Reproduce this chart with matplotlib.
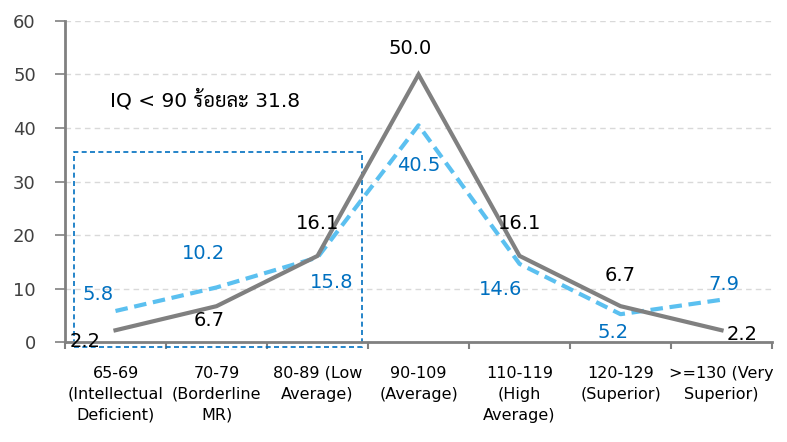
import matplotlib
matplotlib.use('Agg')
import numpy as np
import matplotlib.pyplot as plt
from matplotlib import font_manager
from matplotlib.patches import Rectangle

# Data
categories = ['65-69\n(Intellectual\nDeficient)', '70-79\n(Borderline\nMR)', '80-89 (Low\nAverage)',
              '90-109\n(Average)', '110-119\n(High\nAverage)', '120-129\n(Superior)', '>=130 (Very\nSuperior)']
gray_values = [2.2, 6.7, 16.1, 50.0, 16.1, 6.7, 2.2]
blue_values = [5.8, 10.2, 15.8, 40.5, 14.6, 5.2, 7.9]
note_text = 'IQ < 90 ร้อยละ 31.8'

gray_offsets = [(-30, -11), (-7, -14), (0, 32), (-8, 26), (0, 32), (0, 31), (21, -4)]
blue_offsets = [(-17, 16), (-13, 34), (14, -25), (0, -40), (-19, -26), (-7, -18), (2, 15)]

gray_color = '#808080'
blue_line = '#5BC0F0'
blue_text = '#0070C0'

# pick an installed font that has Thai glyphs
installed = {f.name for f in font_manager.fontManager.ttflist}
thai_font = 'Anuphan'
for name in ['Sarabun', 'Noto Sans Thai Looped', 'Noto Sans Thai', 'Anuphan', 'Bai Jamjuree']:
    if name in installed:
        thai_font = name
        break
plt.rcParams['font.family'] = ['DejaVu Sans', thai_font]

fig = plt.figure(figsize=(7.87, 4.42), dpi=100)
ax = fig.add_axes([0.0826, 0.2262, 0.8984, 0.7263])

x = np.arange(len(categories))
ax.plot(x, gray_values, color=gray_color, lw=3, solid_joinstyle='miter', zorder=3)
ax.plot(x, blue_values, color=blue_line, lw=3, dashes=(3, 1.6), zorder=2)

for xi, v, off in zip(x, gray_values, gray_offsets):
    ax.annotate(f'{v:.1f}', (xi, v), xytext=off, textcoords='offset pixels',
                ha='center', va='center', fontsize=14, color='black', zorder=5)
for xi, v, off in zip(x, blue_values, blue_offsets):
    ax.annotate(f'{v:.1f}', (xi, v), xytext=off, textcoords='offset pixels',
                ha='center', va='center', fontsize=14, color=blue_text, zorder=5)

# dashed box around IQ < 90 group
ax.add_patch(Rectangle((-0.41, -0.9), 2.85, 36.4, fill=False, ec=blue_text,
                       ls=(0, (3, 2)), lw=1.2, clip_on=False, zorder=1))
ax.text(-0.05, 45.2, note_text, ha='left', va='center', fontsize=14.5, color='black')

ax.set_xlim(-0.5, 6.5)
ax.set_ylim(0, 60)
ax.set_yticks(np.arange(0, 61, 10))
ax.yaxis.grid(True, color='#d9d9d9', ls=(0, (4, 3)), lw=1)
ax.set_axisbelow(True)

ax.set_xticks(x)
ax.set_xticklabels(categories, fontsize=11.5, linespacing=1.5)
ax.set_xticks(np.arange(-0.5, 7, 1), minor=True)
ax.tick_params(axis='x', which='major', length=0, pad=17)
ax.tick_params(axis='x', which='minor', length=5, color=gray_color, width=1.5)
ax.tick_params(axis='y', length=7, color=gray_color, width=1.2, pad=14, labelsize=13, labelcolor='#404040')

for s in ['top', 'right']:
    ax.spines[s].set_visible(False)
for s in ['left', 'bottom']:
    ax.spines[s].set_color(gray_color)
    ax.spines[s].set_linewidth(2)

fig.savefig('out.png', dpi=100)
